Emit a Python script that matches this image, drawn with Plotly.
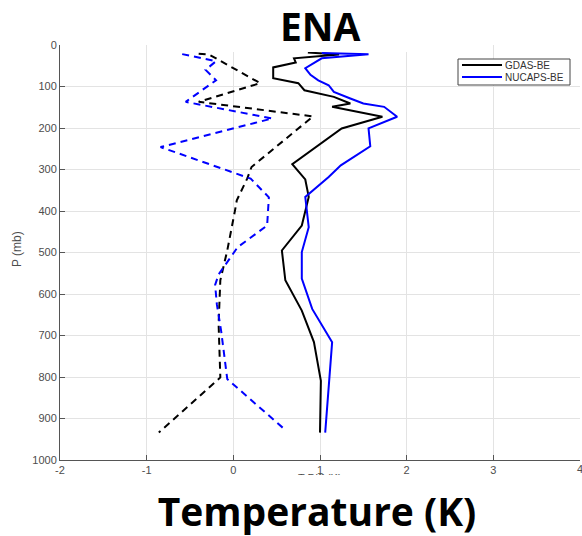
import plotly.graph_objects as go

# ---------------- data ----------------
gdas_p = [18, 23, 32, 42, 54, 80, 92, 109, 125, 141, 149, 173, 201, 250, 287,
          324, 366, 435, 495, 567, 640, 716, 809, 934]
gdas_x = [0.86, 1.22, 0.70, 0.72, 0.46, 0.46, 0.75, 0.82, 1.16, 1.35, 1.14, 1.72,
          1.25, 0.93, 0.68, 0.83, 0.87, 0.79, 0.56, 0.60, 0.79, 0.93, 1.01, 1.00]

nucaps_p = [19, 22, 32, 56, 72, 85, 97, 113, 129, 141, 149, 173, 201, 244, 290,
            318, 366, 439, 499, 563, 636, 716, 934]
nucaps_x = [1.02, 1.56, 1.02, 0.83, 0.89, 0.98, 1.10, 1.16, 1.35, 1.50, 1.74, 1.89,
            1.56, 1.58, 1.24, 1.10, 0.83, 0.87, 0.79, 0.79, 0.91, 1.14, 1.06]

gdas_d_p = [21, 23, 92, 137, 172, 294, 322, 374, 398, 495, 567, 672, 801, 934]
gdas_d_x = [-0.40, -0.28, 0.31, -0.40, 0.92, 0.21, 0.16, 0.04, 0.02, -0.07, -0.15,
            -0.17, -0.15, -0.86]

nucaps_d_p = [22, 39, 60, 85, 137, 177, 246, 322, 367, 435, 487, 553, 578, 625,
              690, 805, 924]
nucaps_d_x = [-0.59, -0.20, -0.32, -0.20, -0.55, 0.45, -0.84, 0.20, 0.41, 0.39,
              0.05, -0.17, -0.21, -0.19, -0.14, -0.07, 0.58]

series_names = ["GDAS-BE", "NUCAPS-BE"]
series_colors = ["#000000", "#0000ff"]

x_ticks = [-2, -1, 0, 1, 2, 3, 4]
x_tick_text = ["-2", "-1", "0", "1", "2", "3", ""]
y_ticks = [0, 100, 200, 300, 400, 500, 600, 700, 800, 900, 1000]

# ---------------- layout geometry ----------------
W, H = 582, 536
ML, MR, MT, MB = 60, 2, 45, 76
PW, PH = W - ML - MR, H - MT - MB


def px(xp):
    return (xp - ML) / PW


def py(yp):
    return 1 - (yp - MT) / PH


fig = go.Figure()

fig.add_trace(go.Scatter(x=gdas_x, y=gdas_p, mode="lines", name=series_names[0],
                         line=dict(color=series_colors[0], width=2)))
fig.add_trace(go.Scatter(x=nucaps_x, y=nucaps_p, mode="lines", name=series_names[1],
                         line=dict(color=series_colors[1], width=2)))
fig.add_trace(go.Scatter(x=gdas_d_x, y=gdas_d_p, mode="lines", showlegend=False,
                         line=dict(color=series_colors[0], width=2, dash="7px,5px")))
fig.add_trace(go.Scatter(x=nucaps_d_x, y=nucaps_d_p, mode="lines", showlegend=False,
                         line=dict(color=series_colors[1], width=2, dash="7px,5px")))

tick_font = dict(family="Liberation Sans, Arial, sans-serif", size=11, color="#4d4d4d")
axis_common = dict(showgrid=True, gridcolor="#e3e3e3", gridwidth=1, zeroline=False,
                   showline=True, linecolor="#555555", linewidth=1,
                   ticks="inside", ticklen=5, tickcolor="#555555", tickwidth=1,
                   tickfont=tick_font)

fig.update_layout(
    width=W, height=H,
    margin=dict(l=ML, r=MR, t=MT, b=MB),
    paper_bgcolor="white", plot_bgcolor="white",
    showlegend=False,
    xaxis=dict(range=[-2, 4], tickvals=x_ticks, ticktext=x_tick_text, **axis_common),
    yaxis=dict(range=[1000, 0], tickvals=y_ticks, **axis_common),
)

shapes = []
# white cover box behind the slide title
shapes.append(dict(type="rect", xref="paper", yref="paper",
                   x0=px(198), x1=px(442), y0=py(52), y1=py(-20),
                   fillcolor="white", line=dict(width=0), layer="above"))
# manual legend
shapes.append(dict(type="rect", xref="paper", yref="paper",
                   x0=px(458), x1=px(570), y0=py(85), y1=py(59),
                   fillcolor="white", line=dict(color="#444444", width=1), layer="above"))
leg_y = [65, 77]
for i, name in enumerate(series_names):
    shapes.append(dict(type="line", xref="paper", yref="paper",
                       x0=px(462), x1=px(502), y0=py(leg_y[i]), y1=py(leg_y[i]),
                       line=dict(color=series_colors[i], width=2), layer="above"))
fig.update_layout(shapes=shapes)

annotations = []
for i, name in enumerate(series_names):
    annotations.append(dict(text=name, xref="paper", yref="paper",
                            x=px(503), y=py(leg_y[i]), xanchor="left", yanchor="middle",
                            showarrow=False,
                            font=dict(family="Liberation Sans, Arial", size=10, color="#333333")))
# last x tick label, partly cut at the right edge as in the reference
annotations.append(dict(text=str(x_ticks[-1]), xref="x", yref="paper", x=x_ticks[-1],
                        y=py(469), xanchor="center", yanchor="middle", showarrow=False,
                        font=tick_font))
annotations.append(dict(text="P (mb)", xref="paper", yref="paper", x=px(17), y=py(249),
                        xanchor="center", yanchor="middle", textangle=-90, showarrow=False,
                        font=dict(family="Liberation Sans, Arial", size=12, color="#4d4d4d")))
annotations.append(dict(text="<b>ENA</b>", xref="paper", yref="paper", x=px(320), y=py(25),
                        xanchor="center", yanchor="middle", showarrow=False,
                        font=dict(family="Open Sans, sans-serif", size=39, color="black")))
annotations.append(dict(text="T Diff (K)", xref="paper", yref="paper", x=px(320), y=py(478),
                        xanchor="center", yanchor="middle", showarrow=False,
                        font=dict(family="Liberation Sans, Arial", size=11, color="#4d4d4d")))
annotations.append(dict(text="<b>Temperature (K)</b>", xref="paper", yref="paper",
                        x=px(317), y=py(475), xanchor="center", yanchor="top",
                        width=600, height=70, bgcolor="white", borderpad=0, borderwidth=0,
                        showarrow=False, valign="middle",
                        font=dict(family="Open Sans, sans-serif", size=39, color="black")))
fig.update_layout(annotations=annotations)

fig.write_html("out.html")
